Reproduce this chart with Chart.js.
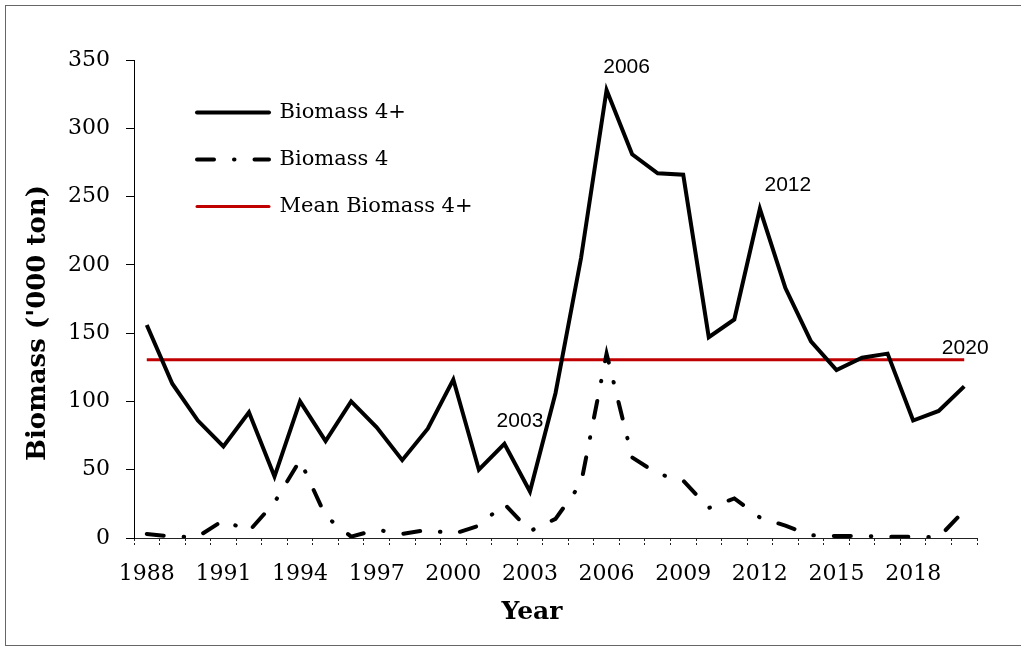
<!DOCTYPE html>
<html>
<head>
<meta charset="utf-8">
<script src="https://cdn.jsdelivr.net/npm/chart.js@4.4.1/dist/chart.umd.min.js"></script>
<style>
  body { margin: 0; background: #fff; }
  .wrap { position: relative; width: 1021px; height: 648px; overflow: hidden; }
  .frame { position: absolute; left: 5px; top: 5px; width: 1040px; height: 641px; border: 1px solid #666; box-sizing: border-box; }
  canvas { position: absolute; left: 0; top: 0; }
</style>
</head>
<body>
<div class="wrap">
  <div class="frame"></div>
  <canvas id="myChart" width="1021" height="648"></canvas>
</div>
<script>
//data
const years = ['1988','1989','1990','1991','1992','1993','1994','1995','1996','1997','1998',
  '1999','2000','2001','2002','2003','2004','2005','2006','2007','2008','2009','2010',
  '2011','2012','2013','2014','2015','2016','2017','2018','2019','2020'];

const biomass4plus = [156, 113, 86, 67, 92, 45, 100, 71, 100, 81, 57,
  80, 116, 50, 69, 34, 106, 205, 328, 281, 267, 266, 147,
  160, 241, 183, 144, 123, 132, 135, 86, 93, 111];

const biomass4 = [3, 1, 1, 13, 5, 26, 57, 16, 1, 6, 3,
  6, 3, 9, 25, 5, 14, 40, 135, 59, 47, 42, 22,
  29, 15, 9, 2, 1.5, 1.5, 1, 1, 0.5, 20];

const meanBiomass4plus = 130.5;

const yTicks = [0, 50, 100, 150, 200, 250, 300, 350];

//year labels written on the plot
const noteYears = ['2006', '2012', '2003', '2020'];

const serif = '"DejaVu Serif", serif';

//plugin: titles + year notes
const extrasPlugin = {
    id: 'extras',
    afterLayout: (chart) => { //push legend into place inside plot
        const lg = chart.legend;
        lg.left = chart.chartArea.left + 37;
        lg.top = chart.chartArea.top + 16;
    },
    afterDatasetsDraw: (chart) => {
        const ctx = chart.ctx;
        const x = chart.scales.x;
        const y = chart.scales.y;
        const offsets = {
            '2006': { ds: 0, dx: 20, dy: -23 },
            '2012': { ds: 0, dx: 28, dy: -24 },
            '2003': { ds: 0, dx: -10, dy: -70 },
            '2020': { ds: 2, dx: 1, dy: -12 }
        };
        ctx.save();
        ctx.fillStyle = '#000';
        ctx.font = '21px "Liberation Sans", Arial, sans-serif';
        ctx.textAlign = 'center';
        ctx.textBaseline = 'middle';
        noteYears.forEach(yr => {
            const o = offsets[yr];
            const i = years.indexOf(yr);
            const v = chart.data.datasets[o.ds].data[i];
            ctx.fillText(yr, x.getPixelForValue(i) + o.dx, y.getPixelForValue(v) + o.dy);
        });

        //axis titles
        ctx.font = 'bold 25px ' + serif;
        ctx.fillText('Year', 532, 612);
        ctx.font = 'bold 26px ' + serif;
        ctx.translate(38, 323);
        ctx.rotate(-Math.PI / 2);
        ctx.fillText("Biomass ('000 ton)", 0, 0);
        ctx.restore();
    }
};

const ctx = document.getElementById('myChart');
const myChart = new Chart(ctx, {
    type: 'line',
    data: {
        labels: years,
        datasets: [{
            label: 'Biomass 4+',
            data: biomass4plus,
            borderColor: '#000',
            backgroundColor: '#000',
            borderWidth: 4,
            pointRadius: 0,
            tension: 0,
            fill: false
        }, {
            label: 'Biomass 4',
            data: biomass4,
            borderColor: '#000',
            backgroundColor: '#000',
            borderWidth: 4,
            borderDash: [17, 20, 0.5, 20],
            borderCapStyle: 'round',
            pointRadius: 0,
            tension: 0,
            fill: false
        }, {
            label: 'Mean Biomass 4+',
            data: years.map(() => meanBiomass4plus),
            borderColor: '#C00000',
            backgroundColor: '#C00000',
            borderWidth: 3,
            pointRadius: 0,
            fill: false
        }]
    },
    options: {
        responsive: false,
        animation: false,
        layout: { padding: { top: 60, left: 0, right: 44, bottom: 0 } },
        plugins: {
            legend: {
                position: 'chartArea',
                align: 'start',
                labels: {
                    usePointStyle: true,
                    pointStyle: 'line',
                    pointStyleWidth: 72,
                    padding: 26,
                    color: '#000',
                    font: { family: serif, size: 21 },
                    generateLabels: (chart) => { //point style loses the dash, put line style back
                        const items = Chart.defaults.plugins.legend.labels.generateLabels(chart);
                        items.forEach(it => {
                            const ds = chart.data.datasets[it.datasetIndex];
                            it.lineDash = ds.borderDash || [];
                            it.lineCap = ds.borderCapStyle || 'round';
                            it.lineWidth = ds.borderWidth;
                            it.strokeStyle = ds.borderColor;
                        });
                        return items;
                    }
                }
            },
            tooltip: { enabled: false }
        },
        scales: {
            x: {
                offset: true,
                afterFit: (s) => { s.height = 110; },
                grid: {
                    offset: true,
                    drawOnChartArea: false,
                    tickLength: 8,
                    color: '#222',
                    tickBorderDash: [2, 2]
                },
                border: { color: '#222', width: 1, dash: [3, 2] },
                ticks: {
                    autoSkip: false,
                    maxRotation: 0,
                    padding: 15,
                    color: '#000',
                    font: { family: serif, size: 22 },
                    callback: (v, i) => (i % 3 === 0 ? years[i] : '')
                }
            },
            y: {
                min: 0,
                max: 350,
                afterFit: (s) => { s.width = 134; },
                afterBuildTicks: (s) => { s.ticks = yTicks.map(v => ({ value: v })); },
                grid: { drawOnChartArea: false, tickLength: 8, color: '#000' },
                border: { color: '#000', width: 1 },
                ticks: {
                    padding: 16,
                    color: '#000',
                    font: { family: serif, size: 22 }
                }
            }
        }
    },
    plugins: [extrasPlugin]
});
</script>
</body>
</html>
